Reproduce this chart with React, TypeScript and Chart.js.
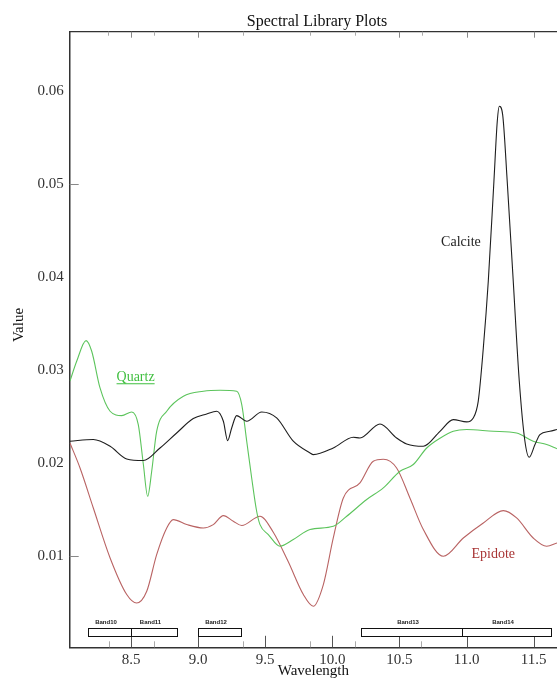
import React, { useEffect, useRef } from "react";
import { Chart, registerables } from "chart.js";

Chart.register(...registerables);

// ---- Data ----
const calciteX = [8.045, 8.219, 8.344, 8.468, 8.592, 8.716, 8.840, 8.964, 9.064, 9.138, 9.188, 9.220, 9.250, 9.287, 9.362, 9.474, 9.585, 9.709, 9.834, 9.858, 10.007, 10.156, 10.206, 10.355, 10.479, 10.554, 10.678, 10.802, 10.901, 11.001, 11.050, 11.087, 11.125, 11.162, 11.204, 11.229, 11.244, 11.269, 11.303, 11.348, 11.393, 11.435, 11.467, 11.510, 11.547, 11.621, 11.674];
const calciteY = [0.02233, 0.02251, 0.02179, 0.02042, 0.02025, 0.02160, 0.02322, 0.02477, 0.02527, 0.02556, 0.02448, 0.02240, 0.02376, 0.02509, 0.02448, 0.02548, 0.02484, 0.02233, 0.02107, 0.02089, 0.02160, 0.02276, 0.02268, 0.02419, 0.02268, 0.02204, 0.02179, 0.02340, 0.02466, 0.02441, 0.02484, 0.02663, 0.03237, 0.03956, 0.05033, 0.05679, 0.05841, 0.05751, 0.05033, 0.03956, 0.02879, 0.02233, 0.02060, 0.02197, 0.02305, 0.02340, 0.02359];

const quartzX = [8.045, 8.095, 8.165, 8.207, 8.269, 8.344, 8.431, 8.505, 8.554, 8.592, 8.624, 8.654, 8.691, 8.766, 8.890, 9.039, 9.163, 9.287, 9.325, 9.362, 9.399, 9.436, 9.461, 9.523, 9.610, 9.709, 9.834, 10.007, 10.107, 10.256, 10.380, 10.504, 10.603, 10.703, 10.802, 10.901, 11.001, 11.199, 11.373, 11.497, 11.597, 11.674];
const quartzY = [0.02881, 0.03094, 0.03317, 0.03202, 0.02807, 0.02556, 0.02509, 0.02548, 0.02412, 0.01982, 0.01640, 0.01910, 0.02340, 0.02556, 0.02717, 0.02771, 0.02782, 0.02771, 0.02628, 0.02233, 0.01837, 0.01479, 0.01335, 0.01228, 0.01102, 0.01174, 0.01282, 0.01317, 0.01425, 0.01605, 0.01730, 0.01910, 0.01982, 0.02160, 0.02265, 0.02340, 0.02359, 0.02340, 0.02322, 0.02233, 0.02197, 0.02152];

const epidoteX = [8.045, 8.120, 8.219, 8.344, 8.468, 8.542, 8.617, 8.691, 8.766, 8.815, 8.915, 9.039, 9.113, 9.188, 9.262, 9.325, 9.461, 9.560, 9.670, 9.784, 9.858, 9.933, 10.007, 10.082, 10.206, 10.305, 10.380, 10.479, 10.578, 10.678, 10.827, 10.976, 11.125, 11.274, 11.373, 11.497, 11.597, 11.674];
const epidoteY = [0.02214, 0.01945, 0.01514, 0.00976, 0.00582, 0.00491, 0.00617, 0.01012, 0.01299, 0.01389, 0.01336, 0.01299, 0.01335, 0.01432, 0.01371, 0.01325, 0.01425, 0.01253, 0.00940, 0.00582, 0.00456, 0.00689, 0.01191, 0.01622, 0.01784, 0.02017, 0.02039, 0.01945, 0.01622, 0.01282, 0.00994, 0.01191, 0.01353, 0.01486, 0.01407, 0.01191, 0.01102, 0.01137];

const seriesNames = ["Calcite", "Quartz", "Epidote"];
const seriesColors = ["#1e1e1e", "#5cc45c", "#b96363"];
const labelColors = ["#222222", "#3fbf3f", "#a83434"];
const labelX = [10.958, 8.534, 11.199];
const labelY = [0.04376, 0.02922, 0.01016];

const bandNames = ["Band10", "Band11", "Band12", "Band13", "Band14"];
const bandStart = [8.177, 8.5, 9.0, 10.211, 10.963];
const bandEnd = [8.5, 8.841, 9.323, 10.963, 11.629];

const xMajorTicks = [8.5, 9.0, 9.5, 10.0, 10.5, 11.0, 11.5];
const xMinorTicks = [8.338, 8.671, 9.334, 9.834, 10.167, 10.663];
const topMajorTicks = [8.5, 9.0, 10.5, 11.0, 11.5];
const topMinorTicks = [8.329, 8.672, 9.336, 9.835, 10.17, 10.67];
const yTickMarks = [0.01, 0.05];

const X_MIN = 8.043;
const X_MAX = 11.674;
const Y_MIN = 0.000135;
const Y_MAX = 0.06644;

const SERIF = "'Liberation Serif', 'Times New Roman', serif";

function toPoints(xs: number[], ys: number[]) {
  return xs.map((x, i) => ({ x, y: ys[i] }));
}

const overlay = {
  id: "overlay",
  afterDatasetsDraw(chart: any) {
    const { ctx, chartArea: a, scales } = chart;
    const x = scales.x;
    const y = scales.y;
    ctx.save();
    // top frame
    ctx.strokeStyle = "#333";
    ctx.lineWidth = 1.3;
    ctx.beginPath();
    ctx.moveTo(a.left, a.top);
    ctx.lineTo(a.right, a.top);
    ctx.stroke();

    // inner ticks
    ctx.lineWidth = 1;
    ctx.strokeStyle = "#555";
    ctx.beginPath();
    xMajorTicks.forEach((v) => {
      const px = Math.round(x.getPixelForValue(v)) + 0.5;
      ctx.moveTo(px, a.bottom);
      ctx.lineTo(px, a.bottom - 11.5);
    });
    ctx.stroke();
    ctx.strokeStyle = "#aaa";
    ctx.beginPath();
    xMinorTicks.forEach((v) => {
      const px = Math.round(x.getPixelForValue(v)) + 0.5;
      ctx.moveTo(px, a.bottom);
      ctx.lineTo(px, a.bottom - 6);
    });
    topMinorTicks.forEach((v) => {
      const px = Math.round(x.getPixelForValue(v)) + 0.5;
      ctx.moveTo(px, a.top);
      ctx.lineTo(px, a.top + 4);
    });
    ctx.stroke();
    ctx.strokeStyle = "#888";
    ctx.beginPath();
    topMajorTicks.forEach((v) => {
      const px = Math.round(x.getPixelForValue(v)) + 0.5;
      ctx.moveTo(px, a.top);
      ctx.lineTo(px, a.top + 6);
    });
    yTickMarks.forEach((v) => {
      const py = Math.round(y.getPixelForValue(v)) + 0.5;
      ctx.moveTo(a.left, py);
      ctx.lineTo(a.left + 9, py);
    });
    ctx.stroke();

    // band boxes
    const boxTop = a.bottom - 19.5;
    const boxBottom = a.bottom - 11.3;
    ctx.strokeStyle = "#111";
    ctx.lineWidth = 1;
    bandNames.forEach((name, i) => {
      const x0 = Math.round(x.getPixelForValue(bandStart[i])) + 0.5;
      const x1 = Math.round(x.getPixelForValue(bandEnd[i])) + 0.5;
      ctx.fillStyle = "#fff";
      ctx.fillRect(x0, boxTop, x1 - x0, boxBottom - boxTop);
      ctx.strokeRect(x0, Math.round(boxTop) + 0.5, x1 - x0, Math.round(boxBottom - boxTop));
      ctx.fillStyle = "#222";
      ctx.font = "bold 6px 'Liberation Sans', Arial, sans-serif";
      ctx.textAlign = "center";
      ctx.textBaseline = "middle";
      ctx.fillText(name, (x0 + x1) / 2 - 4, boxTop - 5.5);
    });

    // series labels
    seriesNames.forEach((name, i) => {
      const px = x.getPixelForValue(labelX[i]);
      const py = y.getPixelForValue(labelY[i]);
      ctx.font = `14px ${SERIF}`;
      ctx.fillStyle = labelColors[i];
      ctx.textAlign = "center";
      ctx.textBaseline = "middle";
      ctx.fillText(name, px, py);
      if (name === "Quartz") {
        const w = ctx.measureText(name).width;
        ctx.strokeStyle = labelColors[i];
        ctx.lineWidth = 1;
        ctx.beginPath();
        ctx.moveTo(px - w / 2, py + 6.5);
        ctx.lineTo(px + w / 2, py + 6.5);
        ctx.stroke();
      }
    });

    // titles
    ctx.fillStyle = "#111";
    ctx.font = `16px ${SERIF}`;
    ctx.textAlign = "center";
    ctx.textBaseline = "middle";
    ctx.fillText("Spectral Library Plots", 317, 22);
    ctx.font = `15px ${SERIF}`;
    ctx.fillText("Wavelength", (a.left + a.right) / 2, 671);
    ctx.save();
    ctx.translate(19, 325);
    ctx.rotate(-Math.PI / 2);
    ctx.fillText("Value", 0, 0);
    ctx.restore();
    ctx.restore();
  },
};

export default function App() {
  const ref = useRef<HTMLCanvasElement | null>(null);
  useEffect(() => {
    if (!ref.current) return;
    const seriesX = [calciteX, quartzX, epidoteX];
    const seriesY = [calciteY, quartzY, epidoteY];
    const chart = new Chart(ref.current, {
      type: "scatter",
      data: {
        datasets: seriesNames.map((name, i) => ({
          label: name,
          data: toPoints(seriesX[i], seriesY[i]),
          showLine: true,
          borderColor: seriesColors[i],
          backgroundColor: seriesColors[i],
          borderWidth: 1.1,
          pointRadius: 0,
          cubicInterpolationMode: "monotone" as const,
        })),
      },
      options: {
        animation: false,
        responsive: false,
        layout: { padding: { left: 0, right: 0, top: 31.7, bottom: 0 } },
        plugins: { legend: { display: false }, title: { display: false }, tooltip: { enabled: false } },
        scales: {
          x: {
            type: "linear",
            min: X_MIN,
            max: X_MAX,
            grid: { display: false, drawTicks: false },
            border: { display: true, color: "#333", width: 1.5 },
            ticks: {
              stepSize: 0.5,
              includeBounds: false,
              padding: 4,
              color: "#333",
              font: { family: SERIF, size: 15 },
              maxRotation: 0,
              autoSkip: false,
              callback: (v: any) => Number(v).toFixed(1),
            },
            afterBuildTicks: (s: any) => {
              s.ticks = s.ticks.filter((t: any) => t.value >= 8.49 && t.value <= 11.51);
            },
            afterFit: (s: any) => {
              s.height = 30.7;
            },
          },
          y: {
            type: "linear",
            min: Y_MIN,
            max: Y_MAX,
            grid: { display: false, drawTicks: false },
            border: { display: true, color: "#333", width: 1.5 },
            ticks: {
              stepSize: 0.01,
              includeBounds: false,
              padding: 6,
              color: "#333",
              font: { family: SERIF, size: 15 },
              callback: (v: any) => Number(v).toFixed(2),
            },
            afterBuildTicks: (s: any) => {
              s.ticks = s.ticks.filter((t: any) => t.value >= 0.0099 && t.value <= 0.0601);
            },
            afterFit: (s: any) => {
              s.width = 69.7;
            },
          },
        },
      },
      plugins: [overlay],
    });
    return () => chart.destroy();
  }, []);
  return (
    <div style={{ position: "fixed", left: 0, top: 0, width: 557, height: 678, background: "#fff" }}>
      <canvas ref={ref} width={557} height={678} style={{ display: "block" }} />
    </div>
  );
}
